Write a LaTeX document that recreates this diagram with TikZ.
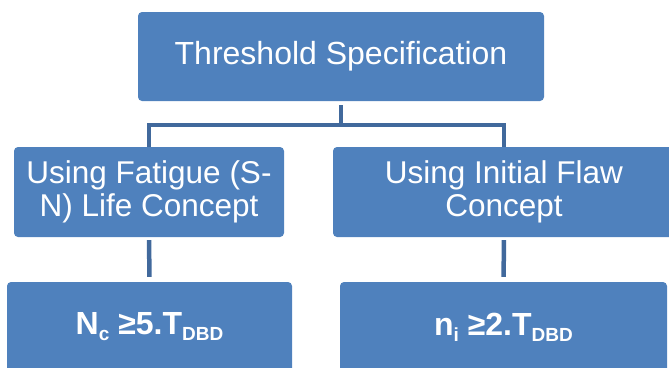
\documentclass[tikz,border=0pt]{standalone}
\usepackage{fontspec}
\setmainfont{Liberation Sans}
\definecolor{boxblue}{HTML}{4F81BD}
\definecolor{linkblue}{HTML}{41699C}
\newcommand{\lowtext}[1]{\raisebox{-6pt}{\fontsize{19}{19}\selectfont #1}}
\begin{document}
\begin{tikzpicture}[
            x=1pt, y=-1pt,
            box/.style={fill=boxblue, rounded corners=4pt, text=white, align=center, inner sep=0pt},
            link/.style={draw=linkblue, line width=4.5pt}
            ]
            \clip (0,0) rectangle (669,367);

            \node [box, minimum width=406pt, minimum height=89pt, font=\fontsize{32}{33}\selectfont] (spec) at (341,56.5) {Threshold Specification};
            \node [box, minimum width=270pt, minimum height=90pt, font=\fontsize{31.5}{33}\selectfont] (fatigue) at (149,192) {Using Fatigue (S-\\N) Life Concept};
            \node [box, minimum width=342pt, minimum height=90pt, font=\fontsize{31.5}{33}\selectfont] (flaw) at (504,192) {Using Initial Flaw\\Concept};
            \node [box, minimum width=285pt, minimum height=90pt, font=\bfseries\fontsize{32}{32}\selectfont] (ncycle) at (149.5,327) {N\lowtext{c} ≥5.T\lowtext{DBD}};
            \node [box, minimum width=327pt, minimum height=90pt, font=\bfseries\fontsize{32}{32}\selectfont] (ninit) at (503.5,327) {n\lowtext{i} ≥2.T\lowtext{DBD}};

            \draw[link, shorten <=4pt] (spec.south) -- ++(0,24) coordinate (fork);
            \draw[link] (fatigue.north) |- (fork) -| (flaw.north);
            \draw[link, shorten <=3pt, shorten >=5pt] (fatigue) -- (ncycle);
            \draw[link, shorten <=3pt, shorten >=5pt] (flaw) -- (ninit);
        \end{tikzpicture}
\end{document}
